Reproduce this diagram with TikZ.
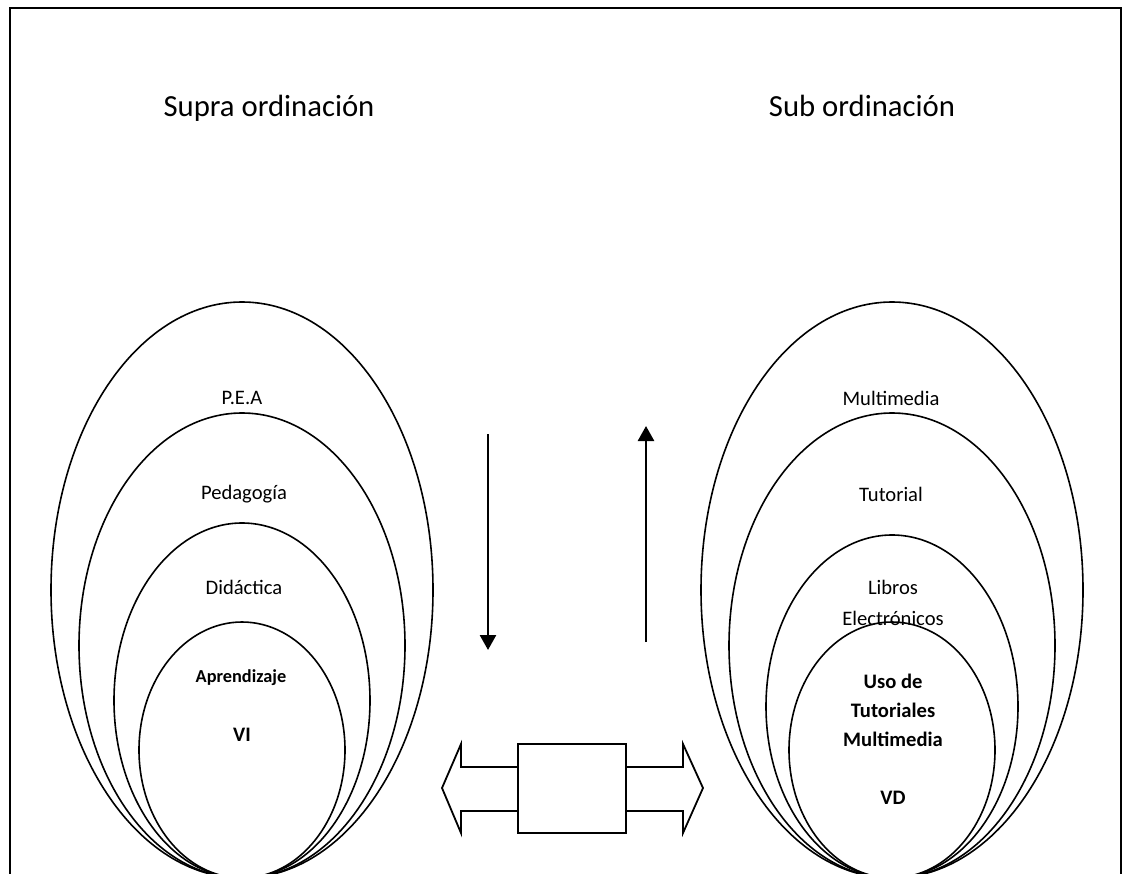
\documentclass[tikz,border=0pt]{standalone}
\usepackage{fontspec}
\setmainfont{Carlito}
\usetikzlibrary{shapes.geometric,arrows.meta}
\tikzset{
  ring/.style={draw, ellipse, line width=1.6pt, inner sep=0pt},
  lbl/.style={font=\fontsize{20.6}{24}\selectfont, inner sep=0pt},
  blbl/.style={font=\fontsize{20.6}{29}\selectfont\bfseries, inner sep=0pt, align=center},
  ttl/.style={font=\fontsize{30.7}{36}\selectfont, inner sep=0pt, anchor=base},
  flow/.style={line width=2.6pt, -{Triangle[width=16pt,length=15pt]}},
  fat/.style={line width=1.8pt, line join=miter}
}
\begin{document}
\begin{tikzpicture}[x=1pt, y=-1pt]
\useasboundingbox (0,0) rectangle (1129,874);
\begin{scope}
\clip (0,0) rectangle (1129,874);
\draw[line width=2pt] (9.5,900) -- (9.5,8.5) -- (1121,8.5) -- (1121,900);
% left group
\node[ring, minimum width=382pt, minimum height=576pt] (L1) at (242,590) {};
\node[ring, minimum width=326pt, minimum height=465pt] (L2) at (242,645.5) {};
\node[ring, minimum width=256pt, minimum height=355pt] (L3) at (242,700.5) {};
\node[ring, minimum width=206pt, minimum height=256pt] (L4) at (242,750) {};
% right group
\node[ring, minimum width=382pt, minimum height=576pt] (R1) at (892,590) {};
\node[ring, minimum width=326pt, minimum height=465pt] (R2) at (892,645.5) {};
\node[ring, minimum width=252pt, minimum height=343pt] (R3) at (892,706.5) {};
\node[ring, minimum width=206pt, minimum height=256pt] (R4) at (892,750) {};
\end{scope}
% titles
\node[ttl] (supra) at (269,117) {Supra ordinación};
\node[ttl] (sub) at (862,117) {Sub ordinación};
% left labels
\node[lbl] (pea) at (242,398) {P.E.A};
\node[lbl] (ped) at (244,494) {Pedagogía};
\node[lbl] (did) at (244,587) {Didáctica};
\node[blbl, font=\fontsize{18.3}{22}\selectfont\bfseries] (apr) at (241,678) {Aprendizaje};
\node[blbl] (vi) at (242,735) {VI};
% right labels
\node[lbl] (mul) at (891,398) {Multimedia};
\node[lbl] (tut) at (891,494) {Tutorial};
\node[lbl] (lib) at (893,587) {Libros};
\node[lbl] (ele) at (893,618) {Electrónicos};
\node[blbl] (uso) at (893,710) {Uso de\\Tutoriales\\Multimedia};
\node[blbl] (vd) at (893,798) {VD};
% vertical arrows
\coordinate (dtop) at (488,434);
\coordinate (dbot) at (488,650);
\coordinate (ubot) at (646,642);
\coordinate (utop) at (646,426);
\draw[flow] (dtop) -- (dbot);
\draw[flow] (ubot) -- (utop);
% box with double arrow
\node[draw, line width=1.8pt, minimum width=108pt, minimum height=89pt, inner sep=0pt] (box) at (572,788.5) {};
\draw[fat] (box.west |- 0,767) -- (461,767) -- (461,744) -- (442,788) -- (461,833) -- (461,811) -- (box.west |- 0,811);
\draw[fat] (box.east |- 0,767) -- (683,767) -- (683,744) -- (703,788) -- (683,833) -- (683,811) -- (box.east |- 0,811);
\end{tikzpicture}
\end{document}
